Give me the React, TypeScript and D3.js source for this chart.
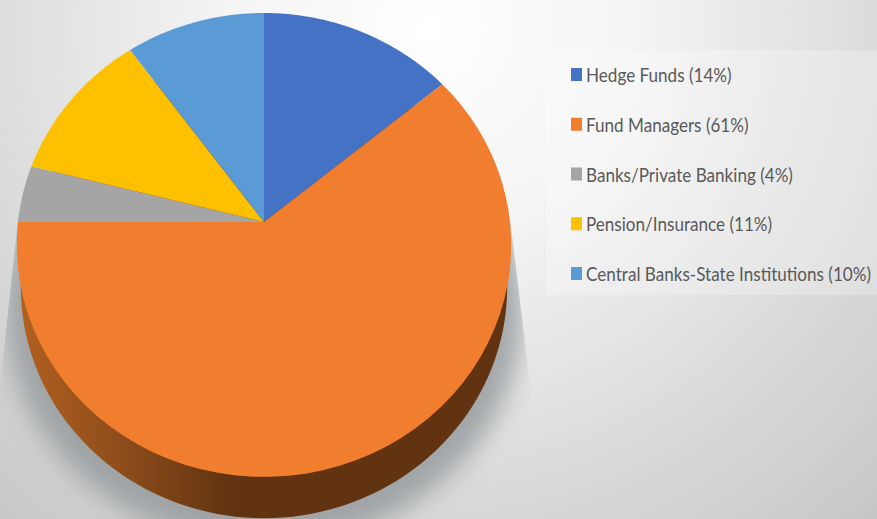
import * as d3 from "d3";

const categories = [
  "Hedge Funds (14%)",
  "Fund Managers (61%)",
  "Banks/Private Banking (4%)",
  "Pension/Insurance (11%)",
  "Central Banks-State Institutions (10%)",
];
const shares = [14, 61, 4, 11, 10];
const colors = ["#4472c4", "#f17e2e", "#a5a5a5", "#ffc000", "#5b9bd5"];

const width = 877;
const height = 519;

// the pie is a tilted disc, so circle points go through a small perspective
const apex = { x: 264, y: 222 };
const tilt = 0.0991;
const project = (a: number, r: number, sx = 246, sy = 229.7, dy = 0): [number, number] => {
  const ux = Math.sin(a) * r;
  const uy = -Math.cos(a) * r;
  const w = 1 - tilt * uy;
  return [apex.x + (sx * ux) / w, apex.y + dy + (sy * uy) / w];
};

const line = d3.line();
const arcs = d3.pie<number>().sort(null)(shares);

const slicePath = (start: number, end: number) => {
  const pts = d3.range(0, 61).map((i) => project(start + ((end - start) * i) / 60, 1));
  return line([[apex.x, apex.y], ...pts]) + "Z";
};

const discPath = (sx: number, sy: number, dy: number) =>
  line(d3.range(0, 181).map((i) => project((i / 180) * 2 * Math.PI, 1, sx, sy, dy))) + "Z";

const legendY = d3
  .scalePoint<string>()
  .domain(categories)
  .range([75, 274]);

export default function App() {
  return (
    <svg
      width={width}
      height={height}
      viewBox={`0 0 ${width} ${height}`}
      style={{ position: "absolute", left: 0, top: 0, display: "block" }}
    >
      <defs>
        <radialGradient id="bg" gradientUnits="userSpaceOnUse" cx={430} cy={30} r={680}>
          <stop offset="0" stopColor="#ffffff" />
          <stop offset="0.3" stopColor="#f4f4f4" />
          <stop offset="0.65" stopColor="#dcdcdc" />
          <stop offset="1" stopColor="#c5c5c5" />
        </radialGradient>
        <linearGradient id="wall" gradientUnits="userSpaceOnUse" x1={20} x2={264} y1={0} y2={0}>
          <stop offset="0" stopColor="#b2601f" />
          <stop offset="0.45" stopColor="#8a4b1b" />
          <stop offset="0.85" stopColor="#633410" />
          <stop offset="1" stopColor="#613310" />
        </linearGradient>
        <filter id="soft" x="-20%" y="-20%" width="140%" height="140%">
          <feGaussianBlur stdDeviation="13" />
        </filter>
        {/* the cast shadow has straight upper edges on both sides */}
        <clipPath id="wedge">
          <polygon points="18,218 510,218 546,519 -14,519" />
        </clipPath>
      </defs>

      <rect width={width} height={height} fill="url(#bg)" />

      {/* shadow under the disc */}
      <g clipPath="url(#wedge)">
        <path d={discPath(258, 236, 62)} fill="#92979a" opacity={0.8} filter="url(#soft)" />
      </g>

      {/* side wall */}
      <path d={discPath(242, 229, 42)} fill="url(#wall)" />

      {arcs.map((d, i) => (
        <path key={categories[i]} d={slicePath(d.startAngle, d.endAngle)} fill={colors[i]} />
      ))}

      {/* legend */}
      <rect x={546} y={50} width={331} height={245} fill="#ffffff" opacity={0.25} />
      {categories.map((c, i) => (
        <g key={c} transform={`translate(571,${legendY(c)})`}>
          <rect x={0} y={-7} width={11} height={13} fill={colors[i]} />
          <text
            transform="translate(15,7) scale(0.95,1.08)"
            fontFamily="Lato, sans-serif"
            fontSize={18}
            fill="#595959"
          >
            {c}
          </text>
        </g>
      ))}
    </svg>
  );
}
